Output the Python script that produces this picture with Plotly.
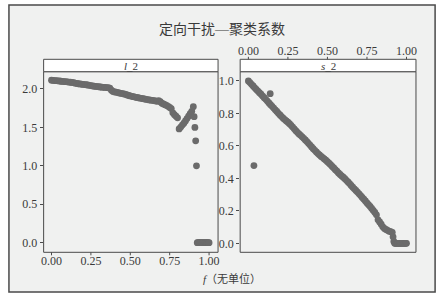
import plotly.graph_objects as go

# ---------------- data ----------------
f_l2 = [0.00, 0.01, 0.02, 0.03, 0.04, 0.05, 0.06, 0.07, 0.08, 0.09,
        0.10, 0.11, 0.12, 0.13, 0.14, 0.15, 0.16, 0.17, 0.18, 0.19,
        0.20, 0.21, 0.22, 0.23, 0.24, 0.25, 0.26, 0.27, 0.28, 0.29,
        0.30, 0.31, 0.32, 0.33, 0.34, 0.35, 0.36, 0.37, 0.38, 0.39,
        0.40, 0.41, 0.42, 0.43, 0.44, 0.45, 0.46, 0.47, 0.48, 0.49,
        0.50, 0.51, 0.52, 0.53, 0.54, 0.55, 0.56, 0.57, 0.58, 0.59,
        0.60, 0.61, 0.62, 0.63, 0.64, 0.65, 0.66, 0.67, 0.68, 0.69,
        0.70, 0.71, 0.72, 0.73, 0.74, 0.75, 0.76, 0.77, 0.78, 0.79,
        0.80, 0.81, 0.82, 0.83, 0.84, 0.85, 0.86, 0.87, 0.88, 0.89,
        0.90, 0.905, 0.91, 0.915, 0.92,
        0.925, 0.93, 0.935, 0.94, 0.945, 0.95, 0.955, 0.96, 0.965, 0.97,
        0.975, 0.98, 0.985, 0.99, 0.995, 1.00]
l2 = [2.115, 2.112, 2.110, 2.108, 2.106, 2.104, 2.101, 2.099, 2.097, 2.095,
      2.093, 2.090, 2.088, 2.085, 2.082, 2.076, 2.072, 2.068, 2.066, 2.063,
      2.060, 2.058, 2.055, 2.052, 2.048, 2.044, 2.040, 2.037, 2.034, 2.031,
      2.029, 2.026, 2.024, 2.022, 2.020, 2.018, 2.016, 2.012, 1.985, 1.968,
      1.962, 1.958, 1.953, 1.948, 1.944, 1.940, 1.935, 1.930, 1.922, 1.915,
      1.910, 1.905, 1.900, 1.895, 1.890, 1.886, 1.882, 1.878, 1.874, 1.870,
      1.866, 1.862, 1.858, 1.855, 1.852, 1.849, 1.845, 1.840, 1.848, 1.835,
      1.815, 1.806, 1.796, 1.786, 1.775, 1.760, 1.745, 1.690, 1.665, 1.645,
      1.625, 1.480, 1.505, 1.530, 1.555, 1.585, 1.615, 1.645, 1.680, 1.710,
      1.770, 1.640, 1.500, 1.325, 1.000,
      0.0, 0.0, 0.0, 0.0, 0.0, 0.0, 0.0, 0.0, 0.0, 0.0,
      0.0, 0.0, 0.0, 0.0, 0.0, 0.0]

f_s2 = [0.00, 0.01, 0.02, 0.03, 0.04, 0.05, 0.06, 0.07, 0.08, 0.09,
        0.10, 0.11, 0.12, 0.13, 0.14, 0.15, 0.16, 0.17, 0.18, 0.19,
        0.20, 0.21, 0.22, 0.23, 0.24, 0.25, 0.26, 0.27, 0.28, 0.29,
        0.30, 0.31, 0.32, 0.33, 0.34, 0.35, 0.36, 0.37, 0.38, 0.39,
        0.40, 0.41, 0.42, 0.43, 0.44, 0.45, 0.46, 0.47, 0.48, 0.49,
        0.50, 0.51, 0.52, 0.53, 0.54, 0.55, 0.56, 0.57, 0.58, 0.59,
        0.60, 0.61, 0.62, 0.63, 0.64, 0.65, 0.66, 0.67, 0.68, 0.69,
        0.70, 0.71, 0.72, 0.73, 0.74, 0.75, 0.76, 0.77, 0.78, 0.79,
        0.80, 0.81, 0.82, 0.83, 0.84, 0.85, 0.86, 0.87, 0.88, 0.89,
        0.90, 0.91, 0.915, 0.92,
        0.925, 0.93, 0.935, 0.94, 0.945, 0.95, 0.955, 0.96, 0.965, 0.97,
        0.975, 0.98, 0.985, 0.99, 0.995, 1.00]
s2 = [1.000, 0.990, 0.979, 0.969, 0.958, 0.948, 0.938, 0.928, 0.918, 0.907,
      0.897, 0.887, 0.876, 0.865, 0.854, 0.844, 0.833, 0.822, 0.812, 0.801,
      0.791, 0.781, 0.771, 0.762, 0.754, 0.746, 0.737, 0.727, 0.716, 0.705,
      0.694, 0.684, 0.674, 0.665, 0.656, 0.647, 0.637, 0.627, 0.616, 0.605,
      0.594, 0.583, 0.573, 0.563, 0.553, 0.544, 0.535, 0.528, 0.520, 0.512,
      0.503, 0.494, 0.484, 0.474, 0.464, 0.454, 0.444, 0.434, 0.424, 0.415,
      0.407, 0.398, 0.388, 0.378, 0.368, 0.357, 0.346, 0.336, 0.326, 0.316,
      0.305, 0.294, 0.283, 0.272, 0.261, 0.249, 0.238, 0.227, 0.215, 0.203,
      0.190, 0.176, 0.145, 0.132, 0.118, 0.102, 0.092, 0.086, 0.080, 0.075,
      0.072, 0.068, 0.040, 0.012,
      0.0, 0.0, 0.0, 0.0, 0.0, 0.0, 0.0, 0.0, 0.0, 0.0,
      0.0, 0.0, 0.0, 0.0, 0.0, 0.0]
f_s2_out = [0.035, 0.138]
s2_out = [0.479, 0.922]

x_ticks = [0.0, 0.25, 0.5, 0.75, 1.0]
x_ticktext = ["0.00", "0.25", "0.50", "0.75", "1.00"]
l2_ticks = [0.0, 0.5, 1.0, 1.5, 2.0]
l2_ticktext = ["0.0", "0.5", "1.0", "1.5", "2.0"]
s2_ticks = [0.0, 0.2, 0.4, 0.6, 0.8, 1.0]
s2_ticktext = ["0.0", "0.2", "0.4", "0.6", "0.8", "1.0"]

title_text = "定向干扰—聚类系数"
strip_left = "<i>l</i>_2"
strip_right = "<i>s</i>_2"
x_title = "<i>f</i>（无单位）"

# ---------------- layout geometry ----------------
W, H = 447, 303
def px(x):
    return x / W
def py(y):
    return 1 - y / H

L_x0, L_x1 = 41, 217
R_x0, R_x1 = 239.3, 416.7
P_y0, P_y1 = 71.7, 252.3
S_y0 = 59.3
TICK_B = 3.0
TICK_T = 2.5

FONT = "Liberation Serif"
CJK_FONT = "Liberation Serif, Noto Sans CJK SC"
TXT = "#3a3a3a"
PT = "#6b6b6b"
EDGE = "#4a4a4a"

fig = go.Figure()
fig.add_trace(go.Scatter(x=f_l2, y=l2, mode="markers",
                         marker=dict(color=PT, size=6.8, line=dict(width=0)),
                         xaxis="x", yaxis="y", showlegend=False))
fig.add_trace(go.Scatter(x=f_s2 + f_s2_out, y=s2 + s2_out, mode="markers",
                         marker=dict(color=PT, size=6.8, line=dict(width=0)),
                         xaxis="x2", yaxis="y2", showlegend=False))

tickfont = dict(family=FONT, size=12, color=TXT)
common = dict(showgrid=False, zeroline=False, showline=False,
              tickwidth=1, tickcolor=EDGE, tickfont=tickfont)

fig.update_layout(
    width=W, height=H,
    margin=dict(l=0, r=0, t=0, b=0),
    paper_bgcolor="white",
    plot_bgcolor="white",
    font=dict(family=CJK_FONT, color=TXT),
    xaxis=dict(domain=[px(L_x0), px(L_x1)], range=[-0.05, 1.057], anchor="y",
               tickvals=x_ticks, ticktext=x_ticktext, ticks="", **common),
    yaxis=dict(domain=[py(P_y1), py(P_y0)], range=[-0.125, 2.225], anchor="x",
               tickvals=l2_ticks, ticktext=l2_ticktext,
               ticks="outside", ticklen=3, **common),
    xaxis2=dict(domain=[px(R_x0), px(R_x1)], range=[-0.052, 1.06],
                anchor="free", position=py(S_y0 - 2), side="top",
                tickvals=x_ticks, ticktext=x_ticktext, ticks="", **common),
    yaxis2=dict(domain=[py(P_y1), py(P_y0)], range=[-0.055, 1.057], anchor="x2",
                tickvals=s2_ticks, ticktext=s2_ticktext,
                ticks="outside", ticklen=3, **common),
)

shapes = []
# outer framed background
shapes.append(dict(type="rect", xref="paper", yref="paper", layer="below",
                   x0=px(6), x1=px(436), y0=py(292), y1=py(5),
                   fillcolor="#f0f1f0", line=dict(color=EDGE, width=1.5)))
for x0, x1 in [(L_x0, L_x1), (R_x0, R_x1)]:
    shapes.append(dict(type="rect", xref="paper", yref="paper", layer="above",
                       x0=px(x0), x1=px(x1), y0=py(P_y1), y1=py(P_y0),
                       line=dict(color=EDGE, width=1)))
    shapes.append(dict(type="rect", xref="paper", yref="paper", layer="above",
                       x0=px(x0), x1=px(x1), y0=py(P_y0), y1=py(S_y0),
                       fillcolor="white", line=dict(color=EDGE, width=1)))
# x tick marks (bottom of left panel, top of right strip)
for t in x_ticks:
    shapes.append(dict(type="line", xref="x", yref="paper", layer="above",
                       x0=t, x1=t, y0=py(P_y1), y1=py(P_y1 + TICK_B),
                       line=dict(color=EDGE, width=1)))
    shapes.append(dict(type="line", xref="x2", yref="paper", layer="above",
                       x0=t, x1=t, y0=py(S_y0), y1=py(S_y0 - TICK_T),
                       line=dict(color=EDGE, width=1)))
fig.update_layout(shapes=shapes)

ann = [
    dict(text=title_text, x=px(221), y=py(29), xref="paper", yref="paper",
         showarrow=False, xanchor="center", yanchor="middle",
         font=dict(family=CJK_FONT, size=14, color=TXT)),
    dict(text=strip_left, x=px((L_x0 + L_x1) / 2), y=py((S_y0 + P_y0) / 2),
         xref="paper", yref="paper", showarrow=False,
         xanchor="center", yanchor="middle",
         font=dict(family=FONT, size=11, color=TXT)),
    dict(text=strip_right, x=px((R_x0 + R_x1) / 2), y=py((S_y0 + P_y0) / 2),
         xref="paper", yref="paper", showarrow=False,
         xanchor="center", yanchor="middle",
         font=dict(family=FONT, size=11, color=TXT)),
    dict(text=x_title, x=px(231), y=py(278), xref="paper", yref="paper",
         showarrow=False, xanchor="center", yanchor="middle",
         font=dict(family=CJK_FONT, size=11, color=TXT)),
]
fig.update_layout(annotations=ann)

fig.write_html("out.html")
